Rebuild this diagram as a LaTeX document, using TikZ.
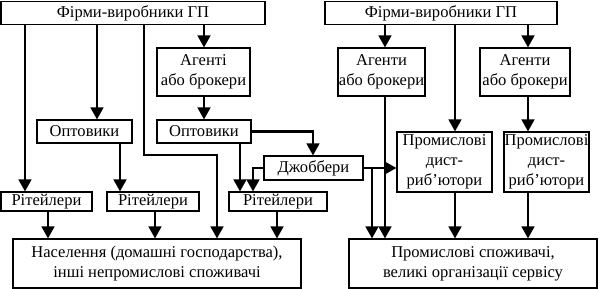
\documentclass[tikz,border=0pt]{standalone}
\usepackage{fontspec}
\setmainfont{Liberation Serif}
\usetikzlibrary{arrows.meta}
\begin{document}
\begin{tikzpicture}[x=0.75pt,y=-0.75pt,
  box/.style={draw,line width=0.8pt,inner sep=0pt,align=center,font=\fontsize{12.4}{15}\selectfont},
  arr/.style={line width=1.8pt,-{Triangle[length=9pt,width=9.5pt]}},
  ln/.style={line width=1.8pt}]
\useasboundingbox (0,0) rectangle (601,289);
\node[box,minimum width=264*0.75pt,minimum height=23*0.75pt] (f1) at (133,13) {Фірми-виробники ГП};
\node[box,minimum width=232*0.75pt,minimum height=23*0.75pt] (f2) at (441,13) {Фірми-виробники ГП};
\node[box,minimum width=93*0.75pt,minimum height=48*0.75pt] (ag1) at (203.5,72) {Агенті\\або брокери};
\node[box,minimum width=95*0.75pt,minimum height=23*0.75pt] (opt1) at (84.5,131.5) {Оптовики};
\node[box,minimum width=94*0.75pt,minimum height=23*0.75pt] (opt2) at (204,131.5) {Оптовики};
\node[box,minimum width=99*0.75pt,minimum height=24*0.75pt] (job) at (313.5,168) {Джоббери};
\node[box,minimum width=91*0.75pt,minimum height=19*0.75pt] (r1) at (46.5,201.5) {Рітейлери};
\node[box,minimum width=92*0.75pt,minimum height=19*0.75pt] (r2) at (153,201.5) {Рітейлери};
\node[box,minimum width=98*0.75pt,minimum height=19*0.75pt] (r3) at (278,201.5) {Рітейлери};
\node[box,minimum width=288*0.75pt,minimum height=49*0.75pt] (nas) at (157,263.5) {Населення (домашні господарства),\\інші непромислові споживачі};
\node[box,minimum width=87*0.75pt,minimum height=48*0.75pt] (ag2) at (381.5,72) {Агенти\\або брокери};
\node[box,minimum width=90*0.75pt,minimum height=48*0.75pt] (ag3) at (525,72) {Агенти\\або брокери};
\node[box,minimum width=95*0.75pt,minimum height=60*0.75pt] (pd1) at (444.5,162) {Промислові\\дист-\\риб’ютори};
\node[box,minimum width=85*0.75pt,minimum height=60*0.75pt] (pd2) at (546.5,162) {Промислові\\дист-\\риб’ютори};
\node[box,minimum width=248*0.75pt,minimum height=49*0.75pt] (ps) at (473,263.5) {Промислові споживачі,\\великі організації сервісу};
% column coordinates
\coordinate (x25) at (25,0);
\coordinate (x97) at (97,0);
\coordinate (x144) at (144,0);
\coordinate (x217) at (217,0);
\coordinate (x204) at (204,0);
\coordinate (x120) at (120,0);
\coordinate (x240) at (240,0);
\coordinate (x253) at (253,0);
\coordinate (x313) at (313,0);
\coordinate (x48) at (48,0);
\coordinate (x155) at (155,0);
\coordinate (x277) at (277,0);
\coordinate (x372) at (372,0);
\coordinate (x385) at (385,0);
\coordinate (x455) at (455,0);
\coordinate (x528) at (528,0);
\coordinate (y155) at (0,155);
% left connectors
\draw[arr] (f1.south -| x25) -- (r1.north -| x25);
\draw[arr] (f1.south -| x97) -- (opt1.north -| x97);
\draw[arr] (f1.south -| x144) -- (x144 |- y155) -- (x217 |- y155) -- (nas.north -| x217);
\draw[arr] (f1.south -| x204) -- (ag1.north -| x204);
\draw[arr] (ag1.south -| x204) -- (opt2.north -| x204);
\draw[arr] (opt2.east) -- (opt2.east -| x313) -- (job.north -| x313);
\draw[arr] (opt1.south -| x120) -- (r2.north -| x120);
\draw[arr] (opt2.south -| x240) -- (r3.north -| x240);
\draw[arr] (job.west) -- (job.west -| x253) -- (r3.north -| x253);
\draw[arr] (r1.south -| x48) -- (nas.north -| x48);
\draw[arr] (r2.south -| x155) -- (nas.north -| x155);
\draw[arr] (r3.south -| x277) -- (nas.north -| x277);
% right connectors
\draw[arr] (job.east) -- (pd1.west |- job.east);
\draw[arr] (job.east) -- (job.east -| x372) -- (ps.north -| x372);
\draw[arr] (f2.south -| x385) -- (ag2.north -| x385);
\draw[arr] (f2.south -| x455) -- (pd1.north -| x455);
\draw[arr] (f2.south -| x528) -- (ag3.north -| x528);
\draw[arr] (ag2.south -| x385) -- (ps.north -| x385);
\draw[arr] (ag3.south -| x528) -- (pd2.north -| x528);
\draw[arr] (pd1.south -| x455) -- (ps.north -| x455);
\draw[arr] (pd2.south -| x528) -- (ps.north -| x528);
\end{tikzpicture}
\end{document}
